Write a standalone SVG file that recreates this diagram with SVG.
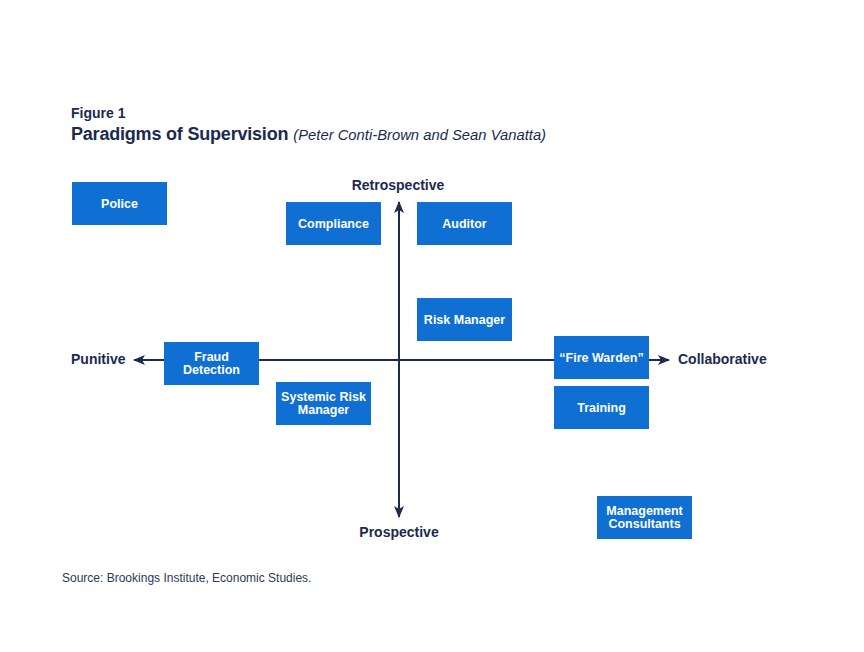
<svg xmlns="http://www.w3.org/2000/svg" width="864" height="652" viewBox="0 0 864 652">
<defs>
<style>
.box{fill:#0f6fd2}
.bt{font-family:"Liberation Sans",Arial,sans-serif;font-weight:bold;font-size:12.5px;fill:#ffffff;text-anchor:middle}
.ax{font-family:"Liberation Sans",Arial,sans-serif;font-weight:bold;font-size:14px;fill:#1b2a4e}
.axis{stroke:#1b2a4e;stroke-width:2;fill:none}
</style>
<marker id="ah" viewBox="0 0 12 10" refX="11" refY="5" markerWidth="12" markerHeight="10" markerUnits="userSpaceOnUse" orient="auto">
<path d="M0,0 L12,5 L0,10 L3,5 Z" fill="#1b2a4e"/>
</marker>
</defs>
<rect width="864" height="652" fill="#ffffff"/>
<text x="71" y="118" font-family="Liberation Sans,Arial,sans-serif" font-weight="bold" font-size="14" fill="#1b2a4e">Figure 1</text>
<text x="71" y="140" font-family="Liberation Sans,Arial,sans-serif" fill="#1b2a4e"><tspan font-weight="bold" font-size="18" letter-spacing="-0.2">Paradigms of Supervision</tspan><tspan font-style="italic" font-size="14.8" dx="5">(Peter Conti-Brown and Sean Vanatta)</tspan></text>
<g id="connectors">
<line class="axis" x1="399" y1="360" x2="399" y2="202" marker-end="url(#ah)"/>
<line class="axis" x1="399" y1="360" x2="399" y2="517" marker-end="url(#ah)"/>
<line class="axis" x1="399" y1="360" x2="134" y2="360" marker-end="url(#ah)"/>
<line class="axis" x1="399" y1="360" x2="669" y2="360" marker-end="url(#ah)"/>
</g>
<g id="axis-labels">
<text class="ax" x="398" y="190" text-anchor="middle">Retrospective</text>
<text class="ax" x="399" y="537" text-anchor="middle">Prospective</text>
<text class="ax" x="71" y="364">Punitive</text>
<text class="ax" x="678" y="364">Collaborative</text>
</g>
<g id="police"><rect class="box" x="72" y="182" width="95" height="43"/><text class="bt" x="119.5" y="208">Police</text></g>
<g id="compliance"><rect class="box" x="286" y="202" width="95" height="43"/><text class="bt" x="333.5" y="228">Compliance</text></g>
<g id="auditor"><rect class="box" x="417" y="202" width="95" height="43"/><text class="bt" x="464.5" y="228">Auditor</text></g>
<g id="risk-manager"><rect class="box" x="417" y="298" width="95" height="43"/><text class="bt" x="464.5" y="324">Risk Manager</text></g>
<g id="fraud-detection"><rect class="box" x="164" y="342" width="95" height="43"/><text class="bt" x="211.5" y="361">Fraud</text><text class="bt" x="211.5" y="374">Detection</text></g>
<g id="systemic-risk-manager"><rect class="box" x="276" y="382" width="95" height="43"/><text class="bt" x="323.5" y="401">Systemic Risk</text><text class="bt" x="323.5" y="414">Manager</text></g>
<g id="fire-warden"><rect class="box" x="554" y="336" width="95" height="43"/><text class="bt" x="601.5" y="362">“Fire Warden”</text></g>
<g id="training"><rect class="box" x="554" y="386" width="95" height="43"/><text class="bt" x="601.5" y="412">Training</text></g>
<g id="management-consultants"><rect class="box" x="597" y="496" width="95" height="43"/><text class="bt" x="644.5" y="515">Management</text><text class="bt" x="644.5" y="528">Consultants</text></g>
<text x="62" y="582" font-family="Liberation Sans,Arial,sans-serif" font-size="12" fill="#2b3857">Source: Brookings Institute, Economic Studies.</text>
</svg>
